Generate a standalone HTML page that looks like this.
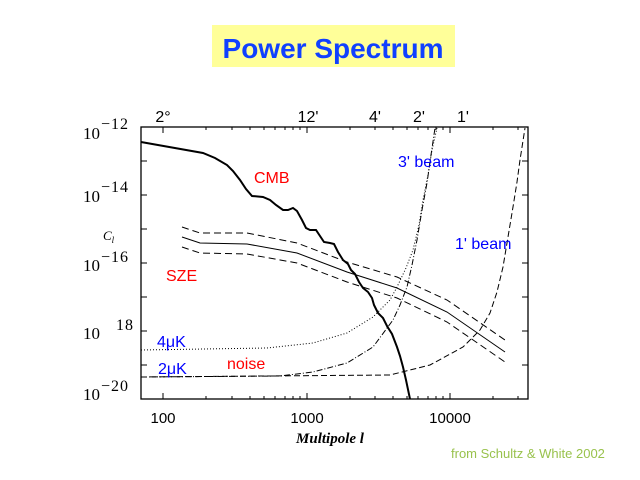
<!DOCTYPE html>
<html><head><meta charset="utf-8"><style>
html,body{margin:0;padding:0;background:#fff;width:640px;height:480px;overflow:hidden}
</style></head><body>
<svg width="640" height="480" viewBox="0 0 640 480" xmlns="http://www.w3.org/2000/svg">
<rect x="212" y="25" width="243" height="42" fill="#ffff99"/>
<text x="333" y="58" text-anchor="middle" font-family="Liberation Sans, sans-serif" font-weight="bold" font-size="28" fill="#1040ff">Power Spectrum</text>

<rect x="141" y="127" width="387" height="272" fill="none" stroke="#000" stroke-width="1.3"/>
<g stroke="#000" stroke-width="1">
<path d="M163 127v6M307 127v6M450 127v6M163 399v-6M307 399v-6M450 399v-6"/>
<path d="M206 127v3M232 127v3M250 127v3M264 127v3M275 127v3M285 127v3M293 127v3M300 127v3M350 127v3M375 127v3M393 127v3M407 127v3M418 127v3M428 127v3M436 127v3M443 127v3M493 127v3M518 127v3"/>
<path d="M206 399v-3M232 399v-3M250 399v-3M264 399v-3M275 399v-3M285 399v-3M293 399v-3M300 399v-3M350 399v-3M375 399v-3M393 399v-3M407 399v-3M418 399v-3M428 399v-3M436 399v-3M443 399v-3M493 399v-3M518 399v-3"/>
<path d="M141 161h6M141 195h6M141 229h6M141 263h6M141 297h6M141 331h6M141 365h6"/>
<path d="M528 161h-6M528 195h-6M528 229h-6M528 263h-6M528 297h-6M528 331h-6M528 365h-6"/>
</g>

<g font-family="Liberation Serif, serif" font-size="17" fill="#000">
<text x="83" y="139">10</text><text x="101" y="129" font-size="16" letter-spacing="1">−12</text>
<text x="83" y="202">10</text><text x="101" y="192" font-size="16" letter-spacing="1">−14</text>
<text x="83" y="271">10</text><text x="101" y="262" font-size="16" letter-spacing="1">−16</text>
<text x="83" y="339">10</text><text x="116" y="330" font-size="16" letter-spacing="1">18</text>
<text x="83" y="400">10</text><text x="101" y="391" font-size="16" letter-spacing="1">−20</text>
<text x="163" y="423" text-anchor="middle" font-family="Liberation Sans, sans-serif" font-size="15">100</text>
<text x="307" y="423" text-anchor="middle" font-family="Liberation Sans, sans-serif" font-size="15">1000</text>
<text x="450" y="423" text-anchor="middle" font-family="Liberation Sans, sans-serif" font-size="15">10000</text>
<text x="330" y="443" text-anchor="middle" font-style="italic" font-weight="bold" font-size="15">Multipole  l</text>
<text x="103" y="240" font-style="italic" font-size="13">C<tspan font-size="9" dy="3">l</tspan></text>
</g>
<g font-family="Liberation Sans, sans-serif" font-size="16" fill="#000" text-anchor="middle">
<text x="163" y="122">2°</text><text x="308" y="122">12'</text><text x="375" y="122">4'</text><text x="419" y="122">2'</text><text x="463" y="122">1'</text>
</g>

<g fill="none" stroke="#000">
<path stroke-width="2" d="M141 142 L203 153 L215 158 L227 165 L233 171 L240 180 L246 189 L252 196 L263 197 L270 200 L276 205 L283 210 L288 210 L293 208 L297 211 L302 220 L306 228 L310 230 L316 230 L320 236 L324 242 L330 243 L334 244 L338 252 L343 260 L348 264 L351 270 L355 274 L359 282 L363 288 L368 292 L372 298 L374 305 L378 313 L383 318 L387 326 L392 334 L397 347 L400 356 L403 367 L406 380 L410 399"/>
<path stroke-width="1" d="M182 237 L200 243 L247 244 L297 253 L347 272 L397 288 L447 312 L505 352"/>
<path stroke-width="1" stroke-dasharray="7,4" d="M182 227 L200 233 L247 233 L297 243 L347 262 L397 277 L447 300 L505 340"/>
<path stroke-width="1" stroke-dasharray="7,4" d="M182 247 L200 253 L247 254 L297 263 L347 282 L397 298 L447 322 L505 362"/>
<path stroke-width="1" stroke-dasharray="1,2" d="M141 350 L267 348 L313 343 L347 333 L373 317 L390 300 L397 287 L406 268 L413 250 L419 225 L423 200 L428 175 L432 150 L437 128"/>
<path stroke-width="1" stroke-dasharray="6,2,1,2" d="M141 377 L280 376 L313 372 L347 363 L373 347 L393 320 L400 305 L407 287 L412 265 L417 240 L422 210 L427 183 L431 155 L435 128"/>
<path stroke-width="1" stroke-dasharray="6,3" d="M141 377 L390 375 L430 365 L463 347 L480 330 L490 313 L497 292 L503 267 L508 237 L513 207 L517 182 L520 160 L525 128"/>
</g>

<g font-family="Liberation Sans, sans-serif" font-size="16">
<text x="254" y="183" fill="#ff0000">CMB</text>
<text x="166" y="281" fill="#ff0000">SZE</text>
<text x="227" y="369" fill="#ff0000">noise</text>
<text x="398" y="167" fill="#0000ff">3' beam</text>
<text x="455" y="249" fill="#0000ff">1' beam</text>
<text x="157" y="347" fill="#0000ff">4μK</text>
<text x="158" y="374" fill="#0000ff">2μK</text>
</g>
<text x="451" y="458" font-family="Liberation Sans, sans-serif" font-size="13" fill="#99c24d">from Schultz &amp; White 2002</text>
</svg>
</body></html>
